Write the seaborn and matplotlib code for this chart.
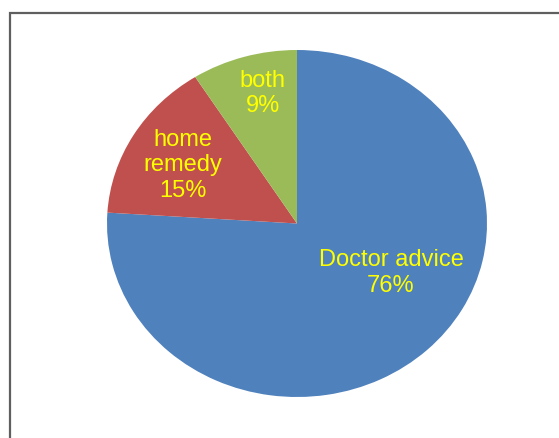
import matplotlib
matplotlib.use("Agg")
import matplotlib.pyplot as plt
import seaborn as sns
from matplotlib.patches import Rectangle

categories = ["Doctor advice", "home remedy", "both"]
values = [76, 15, 9]
pct_labels = ["76%", "15%", "9%"]
display_names = ["Doctor advice", "home\nremedy", "both"]
colors = ["#4F81BD", "#C0504D", "#9BBB59"]

sns.set_style("white")
plt.rcParams['font.family'] = ['Liberation Sans', 'DejaVu Sans']

W, H = 559, 438
fig = plt.figure(figsize=(W / 100, H / 100), dpi=100)
fig.patch.set_facecolor("white")

# axes covering the (slightly stretched) pie ellipse
left, right, top, bottom = 107, 487, 50, 397
ax = fig.add_axes([left / W, (H - bottom) / H, (right - left) / W, (bottom - top) / H])
wedges, _ = ax.pie(values, colors=colors, startangle=90, counterclock=False,
                   wedgeprops=dict(linewidth=0))
ax.set_aspect("auto")
ax.set_xlim(-1, 1)
ax.set_ylim(-1, 1)
ax.axis("off")

label_pos = [(0.495, -0.285), (-0.6, 0.335), (-0.18, 0.75)]
for name, pct, (x, y) in zip(display_names, pct_labels, label_pos):
    ax.text(x, y, f"{name}\n{pct}", ha="center", va="center", color="#FFFF00",
            fontsize=17, linespacing=1.2)

# outer chart frame
fig.patches.append(Rectangle((10 / W, -0.1), 1.2, (H - 13) / H + 0.1,
                             transform=fig.transFigure, fill=False,
                             edgecolor="#5f5f5f", linewidth=1.6))

fig.savefig("out.png", dpi=100)
